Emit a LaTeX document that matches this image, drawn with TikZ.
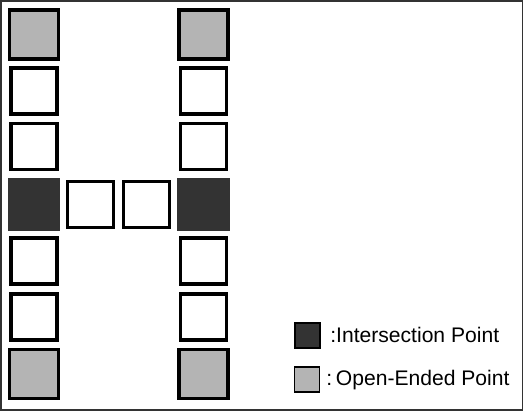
\documentclass[tikz,border=0pt]{standalone}
\usepackage{fontspec}
\setmainfont{Liberation Sans}
\usetikzlibrary{shapes}

\tikzset{
	cell/.style={draw=black, line width=2.2pt, rectangle, minimum size=0.92cm, inner sep=0pt, fill=white},
	openend/.style={cell, fill=color2, minimum size=0.98cm},
	crossing/.style={rectangle, draw=color3, line width=0.6pt, fill=color3, minimum size=1.02cm, inner sep=0pt},
	keybox/.style={rectangle, draw=black, line width=0.8pt, minimum size=0.5cm, inner sep=0pt},
	keytext/.style={anchor=west, inner sep=0pt, font=\fontsize{12}{14}\selectfont}
}

\begin{document}
\begin{tikzpicture}
	\definecolor{color1}{gray}{1.}
	\definecolor{color2}{HTML}{B4B4B4}
	\definecolor{color3}{HTML}{333333}
	\useasboundingbox (0,0) rectangle (10.48,8.22);
	\draw[color3, line width=1.1pt] (0.02,0.02) rectangle (10.45,8.20);
	%% Left column ------
	\node[openend]  (l1) at (0.68, 7.53) {};
	\node[cell]     (l2) at (0.68, 6.40) {};
	\node[cell]     (l3) at (0.68, 5.29) {};
	\node[crossing] (l4) at (0.68, 4.13) {};
	\node[cell]     (l5) at (0.68, 3.00) {};
	\node[cell]     (l6) at (0.68, 1.88) {};
	\node[openend]  (l7) at (0.68, 0.74) {};
	%% Bar ------
	\node[cell] (m1) at (1.81, 4.13) {};
	\node[cell] (m2) at (2.93, 4.13) {};
	%% Right column ------
	\node[openend]  (r1) at (4.07, 7.53) {};
	\node[cell]     (r2) at (4.07, 6.40) {};
	\node[cell]     (r3) at (4.07, 5.29) {};
	\node[crossing] (r4) at (4.07, 4.13) {};
	\node[cell]     (r5) at (4.07, 3.00) {};
	\node[cell]     (r6) at (4.07, 1.88) {};
	\node[openend]  (r7) at (4.07, 0.74) {};
	%% Legend ---------
	\node[keybox, fill=color3] (k1) at (6.15, 1.51) {};
	\node[keytext] (t1) at (6.60, 1.53) {:Intersection Point};
	\node[keybox, fill=color2] (k2) at (6.14, 0.63) {};
	\node[keytext] (t2) at (6.52, 0.62) {:\hspace{0.18em}Open-Ended Point};
\end{tikzpicture}
\end{document}
